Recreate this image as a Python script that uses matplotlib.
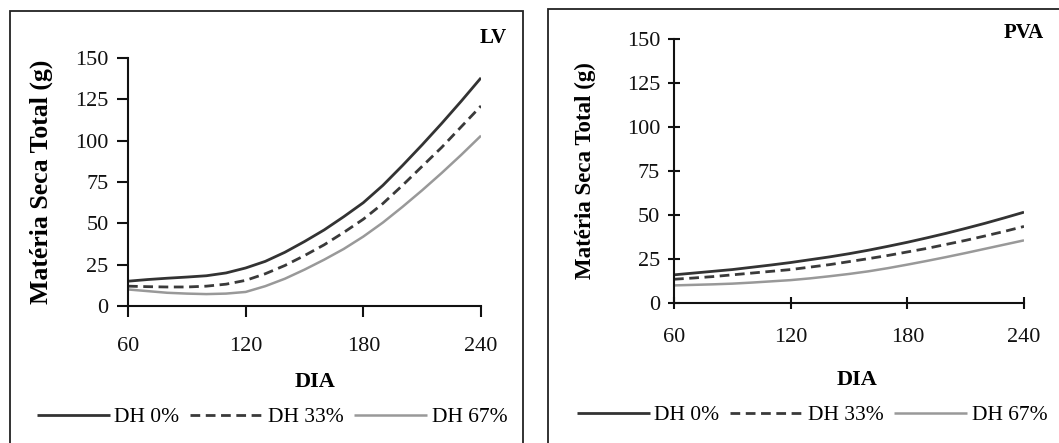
import matplotlib
matplotlib.use("Agg")
import matplotlib.pyplot as plt
from matplotlib.patches import Rectangle

plt.rcParams['font.family'] = ['Liberation Serif', 'DejaVu Serif']

dias = [60, 70, 80, 90, 100, 110, 120, 130, 140, 150, 160, 170, 180, 190, 200, 210, 220, 230, 240]
series_labels = ["DH 0%", "DH 33%", "DH 67%"]

lv_dh0 = [15, 16, 16.8, 17.5, 18.3, 20, 23, 27, 32.5, 39, 46, 54, 62.5, 73, 85, 97.5, 110.5, 124, 138]
lv_dh33 = [12, 11.7, 11.5, 11.5, 12, 13.2, 15.5, 19.5, 24.5, 30.5, 37, 44.5, 52.5, 62, 73, 84.5, 96, 108.5, 121]
lv_dh67 = [10, 9, 8, 7.5, 7.2, 7.5, 8.5, 12, 16.5, 22, 28, 34.5, 42, 50.5, 60, 70, 80.5, 91.5, 103]

pva_dh0 = [16, 17, 18, 19, 20.3, 21.6, 23, 24.6, 26.2, 28, 30, 32.2, 34.5, 37, 39.6, 42.4, 45.3, 48.4, 51.6]
pva_dh33 = [13.5, 14.2, 15, 16, 17, 18, 19, 20.4, 21.8, 23.5, 25.2, 27, 29, 31, 33.3, 35.6, 38.1, 40.7, 43.5]
pva_dh67 = [10, 10.3, 10.6, 11, 11.6, 12.3, 13, 14, 15.2, 16.5, 18, 19.8, 21.8, 23.9, 26.1, 28.4, 30.8, 33.2, 35.6]

xticks = [60, 120, 180, 240]
yticks = [0, 25, 50, 75, 100, 125, 150]

W, H = 1059, 443
fig = plt.figure(figsize=(W / 100, H / 100), dpi=100)

styles = [dict(color="#333333", lw=2.0, ls="-"),
          dict(color="#3a3a3a", lw=2.0, ls=(0, (3.5, 2))),
          dict(color="#999999", lw=1.8, ls="-")]

def px(x0, y0, x1, y1):
    return [x0 / W, 1 - y1 / H, (x1 - x0) / W, (y1 - y0) / H]

# panel frames
fig.patches.append(Rectangle((10 / W, -0.05), (523 - 10) / W, 1 - 11 / H + 0.05,
                             transform=fig.transFigure, fill=False, ec="#222222", lw=1.3))
fig.patches.append(Rectangle((548 / W, -0.05), (W - 548) / W + 0.05, 1 - 9 / H + 0.05,
                             transform=fig.transFigure, fill=False, ec="#222222", lw=1.3))

panels = [
    dict(rect=px(128, 58, 481, 306), data=[lv_dh0, lv_dh33, lv_dh67], tag="LV",
         tagpos=(507, 38), tickdir="out", fs=16, ylab_fs=18.5, ylab_x=41, dia=(315, 382),
         leg_y=417, leg_x=(30, 514)),
    dict(rect=px(674, 39, 1024, 303), data=[pva_dh0, pva_dh33, pva_dh67], tag="PVA",
         tagpos=(1044, 33), tickdir="inout", fs=16, ylab_fs=16.5, ylab_x=585, dia=(857, 380),
         leg_y=415, leg_x=(568, 1056)),
]

for p in panels:
    ax = fig.add_axes(p["rect"])
    for vals, st, lab in zip(p["data"], styles, series_labels):
        ax.plot(dias, vals, label=lab, solid_capstyle="butt", **st)
    ax.set_xlim(60, 240)
    ax.set_ylim(0, 150)
    ax.set_xticks(xticks)
    ax.set_yticks(yticks)
    for s in ["top", "right"]:
        ax.spines[s].set_visible(False)
    for s in ["left", "bottom"]:
        ax.spines[s].set_linewidth(1.5)
        ax.spines[s].set_color("#111111")
    ax.tick_params(direction=p["tickdir"], length=8, width=1.5, labelsize=p["fs"],
                   colors="#111111", pad=6)
    ax.tick_params(axis="x", pad=14)
    ax.patch.set_alpha(0)
    for sp in ax.spines.values():
        sp.set_clip_on(False)
    fig.text(p["ylab_x"] / W, p["rect"][1] + p["rect"][3] / 2,
             "Matéria Seca Total (g)", rotation=90, ha="center", va="center",
             fontsize=p["ylab_fs"], fontweight="bold")
    fig.text(p["dia"][0] / W, 1 - p["dia"][1] / H, "DIA", ha="center", va="center",
             fontsize=16, fontweight="bold")
    fig.text(p["tagpos"][0] / W, 1 - p["tagpos"][1] / H, p["tag"], ha="right", va="center",
             fontsize=15, fontweight="bold")
    x0, x1 = p["leg_x"]
    fig.legend(handles=ax.get_lines(), labels=series_labels, ncol=3,
               loc="center", bbox_to_anchor=((x0 + x1) / 2 / W, 1 - p["leg_y"] / H),
               frameon=False, fontsize=15.5, handlelength=3.4, handletextpad=0.2,
               columnspacing=0.5, borderaxespad=0)

fig.savefig("out.png", dpi=100)
